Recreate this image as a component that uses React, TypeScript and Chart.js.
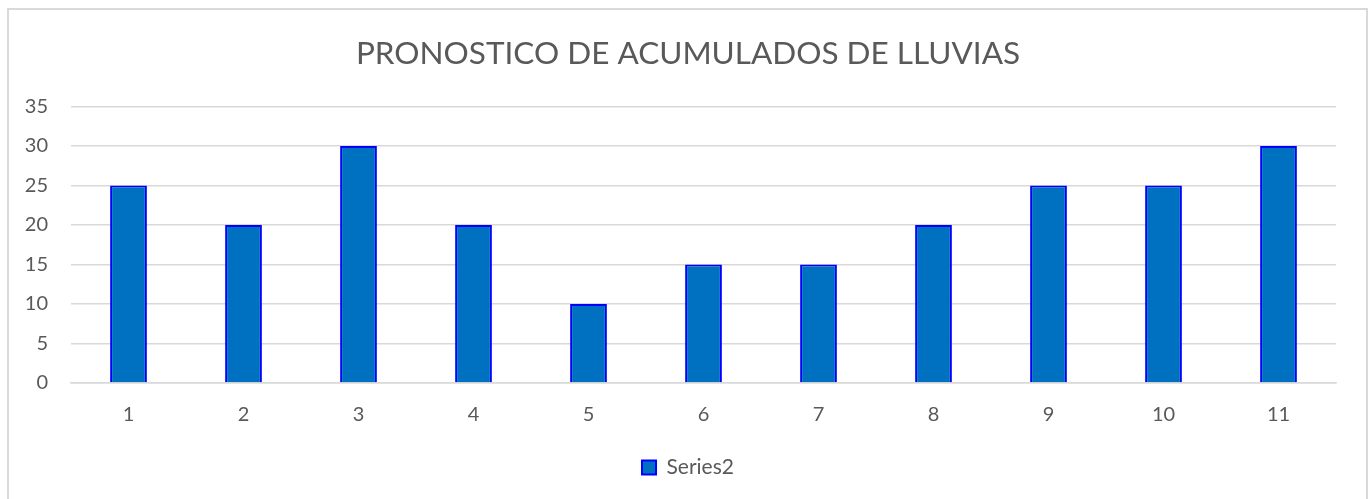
import React, { useEffect, useRef } from "react";
import { Chart, registerables } from "chart.js";

Chart.register(...registerables);

const categories = ["1", "2", "3", "4", "5", "6", "7", "8", "9", "10", "11"];
const series2 = [25, 20, 30, 20, 10, 15, 15, 20, 25, 25, 30];
const yTicks = [0, 5, 10, 15, 20, 25, 30, 35];
const titleText = "PRONOSTICO DE ACUMULADOS DE LLUVIAS";
const seriesName = "Series2";

const FONT = "Lato, 'Open Sans', sans-serif";
const TEXT = "#595959";

export default function App() {
  const ref = useRef<HTMLCanvasElement | null>(null);

  useEffect(() => {
    const canvas = ref.current;
    if (!canvas) return;
    const chart = new Chart(canvas, {
      type: "bar",
      data: {
        labels: categories,
        datasets: [
          {
            label: seriesName,
            data: series2,
            backgroundColor: "#0070C0",
            borderColor: "#0000FF",
            borderWidth: 2,
            categoryPercentage: 1,
            barPercentage: 0.32,
          },
        ],
      },
      options: {
        responsive: false,
        animation: false,
        devicePixelRatio: 1,
        layout: { padding: { top: 10, right: 0, left: 8, bottom: 11 } },
        plugins: {
          title: {
            display: true,
            text: titleText,
            color: TEXT,
            font: { family: FONT, size: 31.5, weight: "normal", lineHeight: 1 },
            padding: { top: 28, bottom: 37 },
          },
          legend: {
            display: true,
            position: "bottom",
            labels: {
              color: TEXT,
              font: { family: FONT, size: 21 },
              boxWidth: 14,
              boxHeight: 14,
              padding: 10,
            },
          },
          tooltip: { enabled: false },
        },
        scales: {
          x: {
            grid: { display: false, drawTicks: false },
            border: { display: true, color: "#d9d9d9", width: 1.5 },
            ticks: {
              color: TEXT,
              font: { family: FONT, size: 20 },
              padding: 20,
              maxRotation: 0,
            },
          },
          y: {
            min: 0,
            max: 35,
            afterFit: (scale: any) => {
              scale.width = 63;
            },
            afterBuildTicks: (scale: any) => {
              scale.ticks = yTicks.map((v) => ({ value: v }));
            },
            grid: { color: "#d9d9d9", lineWidth: 1.5, drawTicks: false },
            border: { display: false },
            ticks: {
              color: TEXT,
              font: { family: FONT, size: 20 },
              padding: 23,
            },
          },
          yRight: {
            type: "linear",
            position: "right",
            min: 0,
            max: 35,
            afterFit: (scale: any) => {
              scale.width = 32;
            },
            grid: { display: false, drawTicks: false },
            border: { display: false },
            ticks: { display: false },
          },
        },
      },
    });
    return () => chart.destroy();
  }, []);

  return (
    <div>
      <div
        style={{
          position: "fixed",
          left: 7,
          top: 8,
          width: 1357,
          height: 500,
          border: "2px solid #d9d9d9",
          background: "#ffffff",
        }}
      />
      <canvas
        ref={ref}
        width={1368}
        height={499}
        style={{ position: "fixed", left: 0, top: 0, width: 1368, height: 499 }}
      />
    </div>
  );
}
